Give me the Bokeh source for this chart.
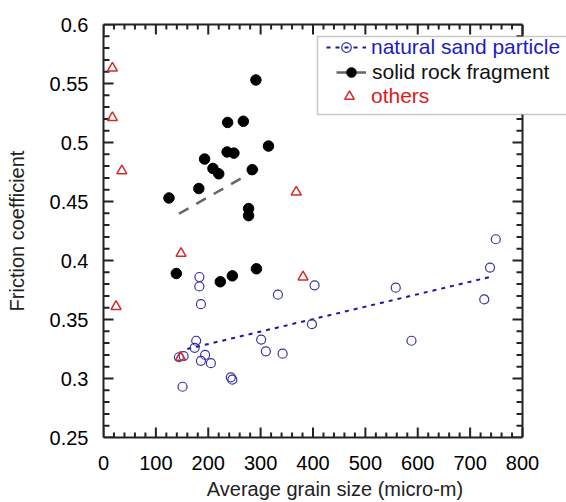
import math
from bokeh.plotting import figure
from bokeh.models import (Range1d, LinearAxis, FixedTicker, CustomJSTickFormatter,
                          Legend, LegendItem, BoxAnnotation, Span)
from bokeh.embed import file_html
from bokeh.resources import INLINE

# ---- data ----
sand_x = [183, 183, 186, 177, 174, 194, 186, 205, 153, 144, 151, 243, 246,
          301, 310, 342, 333, 403, 398, 558, 588, 727, 738, 749]
sand_y = [0.386, 0.378, 0.363, 0.332, 0.326, 0.320, 0.315, 0.313, 0.319, 0.318,
          0.293, 0.301, 0.299, 0.333, 0.323, 0.321, 0.371, 0.379, 0.346, 0.377,
          0.332, 0.367, 0.394, 0.418]
sand_fit_x = [160, 738]
sand_fit_y = [0.325, 0.386]

rock_x = [291, 237, 267, 315, 236, 249, 193, 209, 220, 284, 182, 125, 277, 277,
          139, 223, 246, 292]
rock_y = [0.553, 0.517, 0.518, 0.497, 0.492, 0.491, 0.486, 0.478, 0.4735, 0.477,
          0.461, 0.453, 0.444, 0.438, 0.389, 0.382, 0.387, 0.393]
rock_fit_x = [144, 303]
rock_fit_y = [0.4396, 0.4797]

oth_x = [17, 17, 35, 368, 148, 381, 24, 147]
oth_y = [0.563, 0.521, 0.476, 0.458, 0.406, 0.386, 0.361, 0.318]

labels = ["natural sand particle", "solid rock fragment", "others"]

x_major = [0, 100, 200, 300, 400, 500, 600, 700, 800]
x_minor = [v for v in range(0, 801, 20) if v % 100 != 0]
y_major = [0.25, 0.3, 0.35, 0.4, 0.45, 0.5, 0.55, 0.6]
y_minor = [round(0.25 + 0.01 * i, 2) for i in range(36) if i % 5 != 0]
X_MIN, X_MAX, Y_MIN, Y_MAX = 0, 800, 0.25, 0.6

FONT = "Liberation Sans"
AX = "#222222"
BLUE = "#3434a6"
BLUE_LINE = "#1a1aa0"
RED = "#d42a2a"

# frame: 0..800 over 419 px, 0.25..0.6 over 415 px; widened to the canvas edge for the legend
FRAME_W_PX, FRAME_H_PX = 419, 415
p = figure(width=566, height=502, x_range=Range1d(X_MIN, 884), y_range=Range1d(Y_MIN, Y_MAX),
           output_backend="svg", toolbar_location=None,
           min_border_left=103, min_border_right=0, min_border_top=24, min_border_bottom=63)
p.xgrid.visible = False
p.ygrid.visible = False
p.outline_line_color = None
p.background_fill_color = "white"
p.border_fill_color = "white"

yfmt = CustomJSTickFormatter(code="return parseFloat(tick.toFixed(2)).toString();")
blank = CustomJSTickFormatter(code="return '';")

def style_axis(ax):
    ax.major_tick_in = 0
    ax.major_tick_out = 0
    ax.minor_tick_in = 0
    ax.minor_tick_out = 0
    ax.axis_line_color = AX
    ax.axis_line_width = 2
    ax.major_label_text_font = FONT
    ax.major_label_text_font_size = "20px"
    ax.major_label_text_color = "black"
    ax.axis_label_text_font = FONT
    ax.axis_label_text_font_size = "20px"
    ax.axis_label_text_font_style = "normal"
    ax.axis_label_text_color = "#222222"

xa = p.xaxis[0]
xa.ticker = FixedTicker(ticks=x_major)
xa.bounds = (X_MIN, X_MAX)
style_axis(xa)
xa.major_label_standoff = 18
xa.axis_label = "Average grain size (micro-m)"
xa.axis_label_standoff = 5

ya = p.yaxis[0]
ya.ticker = FixedTicker(ticks=y_major)
ya.formatter = yfmt
style_axis(ya)
ya.major_label_standoff = 15
ya.axis_label = "Friction coefficient"
ya.axis_label_standoff = 19

top_ax = LinearAxis(ticker=FixedTicker(ticks=x_major), formatter=blank,
                    major_label_standoff=0, bounds=(X_MIN, X_MAX))
style_axis(top_ax)
p.add_layout(top_ax, "above")

p.add_layout(Span(location=X_MAX, dimension="height", line_color=AX, line_width=2))

# inward tick marks on all four sides, drawn as short "dash" markers
DX = (X_MAX - X_MIN) / FRAME_W_PX
DY = (Y_MAX - Y_MIN) / FRAME_H_PX

def yticks(vals, ln):
    n = len(vals)
    for x in (X_MIN + ln / 2 * DX, X_MAX - ln / 2 * DX):
        p.scatter(x=[x] * n, y=vals, marker="dash", size=ln, angle=0,
                  line_color=AX, line_width=2)

def xticks(vals, ln):
    n = len(vals)
    for y in (Y_MIN + ln / 2 * DY, Y_MAX - ln / 2 * DY):
        p.scatter(x=vals, y=[y] * n, marker="dash", size=ln, angle=math.pi / 2,
                  line_color=AX, line_width=2)

yticks(y_major, 10)
yticks(y_minor, 6)
xticks(x_major, 10)
xticks(x_minor, 5)

r_sfit = p.line(sand_fit_x, sand_fit_y, line_color=BLUE_LINE, line_width=2, line_dash="4 5")
r_rfit = p.line(rock_fit_x, rock_fit_y, line_color="#666666", line_width=2.5, line_dash="11 9")
r_sand = p.scatter(sand_x, sand_y, marker="circle", size=9, fill_color=None,
                   line_color=BLUE, line_width=1.2)
r_rock = p.scatter(rock_x, rock_y, marker="circle", size=10.5, fill_color="black",
                   line_color="black")
r_oth = p.scatter(oth_x, oth_y, marker="triangle", size=10, fill_color=None,
                  line_color=RED, line_width=1.5)

box = BoxAnnotation(left=214, right=480, top=401, bottom=323,
                    left_units="screen", right_units="screen",
                    top_units="screen", bottom_units="screen",
                    fill_color="white", fill_alpha=1.0,
                    line_color="#444444", line_width=1.5)
p.add_layout(box)

def make_legend(label, rends, color, loc, gw, standoff):
    lg = Legend(items=[LegendItem(label=label, renderers=rends)], location=loc,
                margin=0, padding=0, spacing=0, border_line_color=None,
                background_fill_alpha=0, glyph_width=gw, glyph_height=24,
                label_height=24, label_standoff=standoff,
                label_text_font=FONT, label_text_font_size="21px",
                label_text_color=color)
    p.add_layout(lg, "center")

make_legend(labels[0], [r_sfit, r_sand], "#1c1cc4", (223, 378), 40, 5)
make_legend(labels[1], [r_rfit, r_rock], "#111111", (233, 353), 30, 6)
make_legend(labels[2], [r_oth], "#e01818", (234, 329), 24, 10)

open("out.html", "w").write(file_html(p, INLINE))
